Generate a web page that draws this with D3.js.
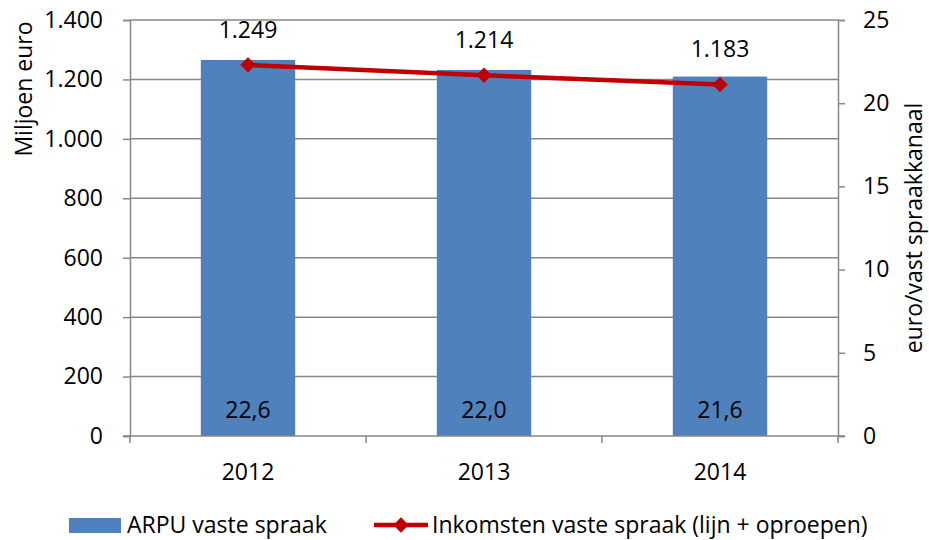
<!DOCTYPE html>
<html>
<head>
<meta charset="utf-8">
<script src="https://cdn.jsdelivr.net/npm/d3@7"></script>
<style>
  body { margin: 0; background: #fff; }
  svg text { font-family: "Open Sans", sans-serif; fill: #000; }
</style>
</head>
<body>
<div id="chart"></div>
<script>
const years = ['2012', '2013', '2014'];
const arpu = [22.6, 22.0, 21.6];
const arpuLabels = ['22,6', '22,0', '21,6'];
const inkomsten = [1249, 1214, 1183];
const inkomstenLabels = ['1.249', '1.214', '1.183'];
const leftTicks = [0, 200, 400, 600, 800, 1000, 1200, 1400];
const rightTicks = [0, 5, 10, 15, 20, 25];

const width = 929;
const height = 540;
const plot = { left: 130, right: 838, top: 20, bottom: 436 };
const fontSize = 23;

const fmt = d3.formatLocale({ decimal: ',', thousands: '.', grouping: [3], currency: ['€', ''] }).format(',d');

const svg = d3.select('#chart')
  .append('svg')
  .attr('width', width)
  .attr('height', height);

const x = d3.scaleBand()
  .domain(years)
  .range([plot.left, plot.right]);

const yLeft = d3.scaleLinear()
  .domain([0, 1400])
  .range([plot.bottom, plot.top]);

const yRight = d3.scaleLinear()
  .domain([0, 25])
  .range([plot.bottom, plot.top]);

const gridColor = '#878787';

// gridlines
svg.append('g')
  .selectAll('line')
  .data(leftTicks.filter(d => d > 0))
  .enter()
  .append('line')
  .attr('x1', plot.left)
  .attr('x2', plot.right)
  .attr('y1', d => yLeft(d))
  .attr('y2', d => yLeft(d))
  .attr('stroke', gridColor)
  .attr('stroke-width', 1.5);

// bars (right axis)
const barWidth = x.bandwidth() * 0.4;
svg.append('g')
  .selectAll('rect')
  .data(arpu)
  .enter()
  .append('rect')
  .attr('x', (d, i) => x(years[i]) + x.bandwidth() / 2 - barWidth / 2)
  .attr('y', d => yRight(d))
  .attr('width', barWidth)
  .attr('height', d => plot.bottom - yRight(d))
  .attr('fill', '#4F81BD');

// left axis
const leftAxis = svg.append('g')
  .attr('transform', `translate(${plot.left},0)`)
  .call(d3.axisLeft(yLeft).tickValues(leftTicks).tickFormat(fmt).tickSize(7).tickPadding(20));
leftAxis.select('.domain').attr('stroke', gridColor).attr('stroke-width', 1.5);
leftAxis.selectAll('.tick line').attr('stroke', gridColor).attr('stroke-width', 1.5);
leftAxis.selectAll('.tick text').attr('font-size', fontSize).attr('font-family', '"Open Sans", sans-serif');

// right axis
const rightAxis = svg.append('g')
  .attr('transform', `translate(${plot.right},0)`)
  .call(d3.axisRight(yRight).tickValues(rightTicks).tickSize(7).tickPadding(18));
rightAxis.select('.domain').attr('stroke', gridColor).attr('stroke-width', 1.5);
rightAxis.selectAll('.tick line').attr('stroke', gridColor).attr('stroke-width', 1.5);
rightAxis.selectAll('.tick text').attr('font-size', fontSize).attr('font-family', '"Open Sans", sans-serif');

// bottom axis
const bottom = svg.append('g');
bottom.append('line')
  .attr('x1', plot.left - 7)
  .attr('x2', plot.right + 7)
  .attr('y1', plot.bottom)
  .attr('y2', plot.bottom)
  .attr('stroke', gridColor)
  .attr('stroke-width', 1.5);
bottom.selectAll('.sep')
  .data(years.concat(['end']))
  .enter()
  .append('line')
  .attr('class', 'sep')
  .attr('x1', (d, i) => i < years.length ? x(d) : plot.right)
  .attr('x2', (d, i) => i < years.length ? x(d) : plot.right)
  .attr('y1', plot.bottom)
  .attr('y2', plot.bottom + 7)
  .attr('stroke', gridColor)
  .attr('stroke-width', 1.5);
bottom.selectAll('text')
  .data(years)
  .enter()
  .append('text')
  .attr('x', d => x(d) + x.bandwidth() / 2)
  .attr('y', 480)
  .attr('text-anchor', 'middle')
  .attr('font-size', fontSize)
  .text(d => d);

// bar labels
svg.append('g')
  .selectAll('text')
  .data(arpuLabels)
  .enter()
  .append('text')
  .attr('x', (d, i) => x(years[i]) + x.bandwidth() / 2)
  .attr('y', 418)
  .attr('text-anchor', 'middle')
  .attr('font-size', fontSize)
  .text(d => d);

// line (left axis)
const line = d3.line()
  .x((d, i) => x(years[i]) + x.bandwidth() / 2)
  .y(d => yLeft(d));

svg.append('path')
  .datum(inkomsten)
  .attr('d', line)
  .attr('fill', 'none')
  .attr('stroke', '#C00000')
  .attr('stroke-width', 4.5);

const diamond = d3.symbol().type(d3.symbolDiamond2).size(150);
svg.append('g')
  .selectAll('path')
  .data(inkomsten)
  .enter()
  .append('path')
  .attr('d', diamond)
  .attr('transform', (d, i) => `translate(${x(years[i]) + x.bandwidth() / 2},${yLeft(d)})`)
  .attr('fill', '#C00000');

svg.append('g')
  .selectAll('text')
  .data(inkomstenLabels)
  .enter()
  .append('text')
  .attr('x', (d, i) => x(years[i]) + x.bandwidth() / 2)
  .attr('y', (d, i) => yLeft(inkomsten[i]) - 27)
  .attr('text-anchor', 'middle')
  .attr('font-size', fontSize)
  .text(d => d);

// axis titles
svg.append('text')
  .attr('transform', 'translate(32,89) rotate(-90)')
  .attr('text-anchor', 'middle')
  .attr('font-size', fontSize)
  .text('Miljoen euro');

svg.append('text')
  .attr('transform', 'translate(922,228) rotate(-90)')
  .attr('text-anchor', 'middle')
  .attr('font-size', fontSize)
  .text('euro/vast spraakkanaal');

// legend
const legend = svg.append('g').attr('class', 'legend');
legend.append('rect')
  .attr('x', 69)
  .attr('y', 518)
  .attr('width', 52)
  .attr('height', 15)
  .attr('fill', '#4F81BD');
legend.append('text')
  .attr('x', 127)
  .attr('y', 533)
  .attr('font-size', fontSize)
  .text('ARPU vaste spraak');
legend.append('line')
  .attr('x1', 374)
  .attr('x2', 428)
  .attr('y1', 525)
  .attr('y2', 525)
  .attr('stroke', '#C00000')
  .attr('stroke-width', 4.5);
legend.append('path')
  .attr('d', diamond)
  .attr('transform', 'translate(401,525)')
  .attr('fill', '#C00000');
legend.append('text')
  .attr('x', 432)
  .attr('y', 533)
  .attr('font-size', fontSize)
  .text('Inkomsten vaste spraak (lijn + oproepen)');
</script>
</body>
</html>
